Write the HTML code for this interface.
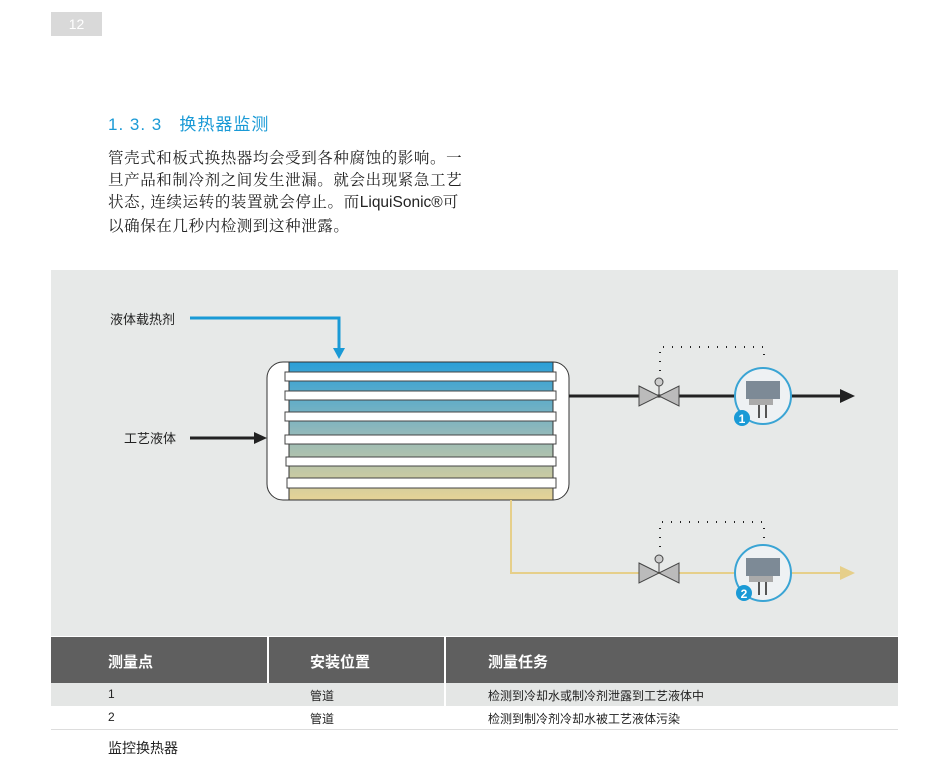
<!DOCTYPE html>
<html><head><meta charset="utf-8"><style>
body{margin:0;width:950px;height:778px;background:#fff;position:relative;font-family:"Liberation Sans","Noto Sans CJK SC",sans-serif;overflow:hidden}
.a{position:absolute}
</style></head><body>
<div class="a" style="left:51px;top:12px;width:51px;height:24px;background:#d9d9d9;color:#fff;font-size:14px;line-height:24px;text-align:center">12</div>
<div class="a" style="left:108px;top:110px;font-size:17px;color:#1a9ad6;letter-spacing:1px">1. 3. 3&nbsp;&nbsp; 换热器监测</div>
<div class="a" style="left:108px;top:146px;width:364px;font-size:15.5px;letter-spacing:0.6px;line-height:22px;color:#222;font-family:'Noto Serif CJK SC','Liberation Serif',serif">管壳式和板式换热器均会受到各种腐蚀的影响。一旦产品和制冷剂之间发生泄漏。就会出现紧急工艺状态, 连续运转的装置就会停止。而<span style="font-family:'Liberation Sans',sans-serif;letter-spacing:0">LiquiSonic®</span>可以确保在几秒内检测到这种泄露。</div>
<div class="a" style="left:51px;top:270px;width:847px;height:366px;background:#e7e9e8"></div>
<svg class="a" style="left:0;top:0" width="950" height="778">
<defs><linearGradient id="g" x1="0" y1="0" x2="0" y2="1"><stop offset="0" stop-color="#2a9fd8"/><stop offset="0.5" stop-color="#8fb8bb"/><stop offset="1" stop-color="#e6d396"/></linearGradient>
<g id="valve"><polygon points="-20,-10 20,10 20,-10 -20,10" fill="#bbb" stroke="#444" stroke-width="1"/><line x1="0" y1="0" x2="0" y2="-12" stroke="#444"/><circle cx="0" cy="-14" r="4" fill="#ccc" stroke="#444"/></g>
<g id="sens"><circle r="28" fill="#eef1f3" stroke="#3aa4d4" stroke-width="2"/><rect x="-17" y="-15" width="34" height="18" fill="#7d8a96"/><rect x="-14" y="3" width="24" height="6" fill="#aaa"/><line x1="-4" y1="9" x2="-4" y2="22" stroke="#555" stroke-width="2"/><line x1="3" y1="9" x2="3" y2="22" stroke="#555" stroke-width="2"/></g></defs>
<text x="110" y="324" font-size="13" fill="#222">液体载热剂</text>
<text x="124" y="443" font-size="13" fill="#222">工艺液体</text>
<polyline points="190,318 339,318 339,350" fill="none" stroke="#1a9ad6" stroke-width="3"/>
<polygon points="333,348 345,348 339,359" fill="#1a9ad6"/>
<line x1="190" y1="438" x2="256" y2="438" stroke="#222" stroke-width="3"/>
<polygon points="254,432 267,438 254,444" fill="#222"/>
<rect x="267" y="362" width="302" height="138" rx="16" fill="#fff" stroke="#333" stroke-width="1"/>
<rect x="289" y="362" width="264" height="138" fill="url(#g)" stroke="#333" stroke-width="1"/>
<g fill="#fff" stroke="#444" stroke-width="1">
<rect x="285" y="372" width="271" height="9"/><rect x="285" y="391" width="271" height="9"/><rect x="285" y="412" width="271" height="9"/><rect x="285" y="435" width="271" height="9"/><rect x="286" y="457" width="270" height="9"/><rect x="287" y="478" width="269" height="10"/></g>
<line x1="569" y1="396" x2="842" y2="396" stroke="#222" stroke-width="3"/>
<polygon points="840,389 855,396 840,403" fill="#222"/>
<polyline points="511,500 511,573 842,573" fill="none" stroke="#e6cf8a" stroke-width="2"/>
<polygon points="840,566 855,573 840,580" fill="#e6cf8a"/>
<g stroke="#222" stroke-width="2" stroke-dasharray="1 8" fill="none">
<polyline points="660,380 660,347 764,347 764,362"/><polyline points="660,556 660,522 764,522 764,540"/></g>
<use href="#valve" x="659" y="396"/><use href="#valve" x="659" y="573"/>
<use href="#sens" x="763" y="396"/><use href="#sens" x="763" y="573"/>
<circle cx="742" cy="418" r="8" fill="#1a9ad6"/><text x="742" y="423" font-size="12" fill="#fff" text-anchor="middle" font-weight="bold">1</text>
<circle cx="744" cy="593" r="8" fill="#1a9ad6"/><text x="744" y="598" font-size="12" fill="#fff" text-anchor="middle" font-weight="bold">2</text>
</svg>
<div class="a" style="left:51px;top:637px;width:216px;height:46px;background:#5f5f5f"></div>
<div class="a" style="left:269px;top:637px;width:175px;height:46px;background:#5f5f5f"></div>
<div class="a" style="left:446px;top:637px;width:452px;height:46px;background:#5f5f5f"></div>
<div class="a" style="left:108px;top:651px;color:#fff;font-size:15px;font-weight:bold">测量点</div>
<div class="a" style="left:310px;top:651px;color:#fff;font-size:15px;font-weight:bold">安装位置</div>
<div class="a" style="left:488px;top:651px;color:#fff;font-size:15px;font-weight:bold">测量任务</div>
<div class="a" style="left:51px;top:683px;width:847px;height:23px;background:#e4e6e5"></div>
<div class="a" style="left:444px;top:683px;width:2px;height:23px;background:#fff"></div>
<div class="a" style="left:51px;top:729px;width:847px;height:1px;background:#ddd"></div>
<div class="a" style="left:108px;top:687px;font-size:12px;color:#222">1</div>
<div class="a" style="left:310px;top:687px;font-size:12px;color:#222">管道</div>
<div class="a" style="left:488px;top:687px;font-size:12px;color:#222">检测到冷却水或制冷剂泄露到工艺液体中</div>
<div class="a" style="left:108px;top:710px;font-size:12px;color:#222">2</div>
<div class="a" style="left:310px;top:710px;font-size:12px;color:#222">管道</div>
<div class="a" style="left:488px;top:710px;font-size:12px;color:#222">检测到制冷剂冷却水被工艺液体污染</div>
<div class="a" style="left:108px;top:738px;font-size:14px;color:#222">监控换热器</div>
</body></html>
